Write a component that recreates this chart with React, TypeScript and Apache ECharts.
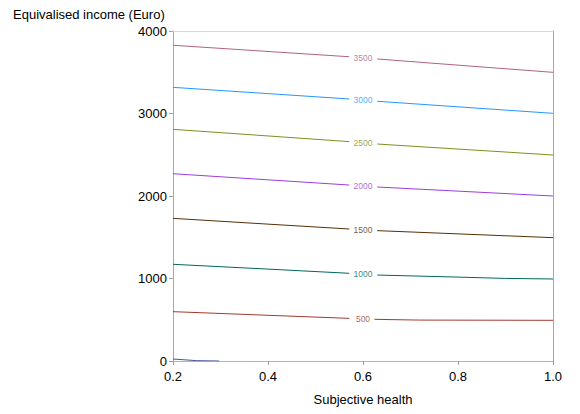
import React, { useEffect, useRef } from "react";
import * as echarts from "echarts";

// Contour levels and their colours
const levels = [0, 500, 1000, 1500, 2000, 2500, 3000, 3500];
const levelColors = ["#445694", "#A23A2E", "#01665E", "#543005", "#9D3CDB", "#7F8E1F", "#2597FA", "#B26084"];

// Contour lines: [subjective health, income]; "-" marks the gap left for the label
const contour0 = [[0.2, 24], [0.25, 4], [0.297, 0]];
const contour500 = [[0.2, 598], [0.4, 554], [0.571, 517], [0.6, "-"], [0.624, 505], [0.719, 496], [1.0, 493]];
const contour1000 = [[0.2, 1172], [0.4, 1114], [0.571, 1063], [0.6, "-"], [0.63, 1042], [0.8, 1017], [0.9, 1001], [1.0, 994]];
const contour1500 = [[0.2, 1729], [0.4, 1659], [0.571, 1600], [0.6, "-"], [0.63, 1580], [0.8, 1541], [1.0, 1495]];
const contour2000 = [[0.2, 2270], [0.4, 2196], [0.571, 2133], [0.6, "-"], [0.63, 2109], [0.8, 2059], [1.0, 2000]];
const contour2500 = [[0.2, 2808], [0.4, 2728], [0.571, 2659], [0.6, "-"], [0.63, 2630], [0.8, 2569], [1.0, 2497]];
const contour3000 = [[0.2, 3317], [0.4, 3241], [0.571, 3176], [0.6, "-"], [0.63, 3148], [0.8, 3081], [1.0, 3002]];
const contour3500 = [[0.2, 3827], [0.4, 3752], [0.571, 3688], [0.6, "-"], [0.63, 3661], [0.8, 3586], [1.0, 3499]];
const contours = [contour0, contour500, contour1000, contour1500, contour2000, contour2500, contour3000, contour3500];

// Label positions (x, income) for levels 500..3500
const labelX = 0.6;
const labelLevels = [500, 1000, 1500, 2000, 2500, 3000, 3500];
const labelY = [513, 1052, 1590, 2121, 2644, 3162, 3675];

// Axes
const xMin = 0.2, xMax = 1.0, xStep = 0.2;
const yMin = 0, yMax = 4000, yStep = 1000;
const xTitle = "Subjective health";
const yTitle = "Equivalised income (Euro)";

const FONT = "Liberation Sans, Arial, Helvetica, sans-serif";

export default function App() {
  const ref = useRef<HTMLDivElement>(null);
  useEffect(() => {
    if (!ref.current) return;
    const chart = echarts.init(ref.current, undefined, { renderer: "svg" });
    const lineSeries = contours.map((d, i) => ({
      type: "line",
      name: String(levels[i]),
      data: d,
      showSymbol: false,
      symbol: "none",
      connectNulls: false,
      lineStyle: { width: 1, color: levelColors[i] },
      itemStyle: { color: levelColors[i] },
      xAxisIndex: 0,
      yAxisIndex: 0,
      silent: true,
      z: 3,
    }));
    const labelSeries = {
      type: "scatter",
      symbolSize: 0,
      silent: true,
      z: 4,
      data: labelLevels.map((lv, i) => ({
        value: [labelX, labelY[i]],
        name: String(lv),
        label: { color: levelColors[levels.indexOf(lv)] },
      })),
      label: {
        show: true,
        position: "inside",
        formatter: (p: any) => p.name,
        fontSize: 8.5,
        fontFamily: FONT,
      },
    };
    chart.setOption({
      animation: false,
      grid: { left: 173, top: 31, right: 27, bottom: 53, containLabel: false },
      title: {
        text: yTitle,
        left: 13,
        top: 8,
        padding: 0,
        textStyle: { fontSize: 13, fontWeight: "normal", color: "#000", fontFamily: FONT },
      },
      xAxis: [
        {
          type: "value",
          min: xMin,
          max: xMax,
          interval: xStep,
          name: xTitle,
          nameLocation: "middle",
          nameGap: 32,
          nameTextStyle: { fontSize: 13, color: "#000", fontFamily: FONT },
          axisLine: { show: true, lineStyle: { color: "#b4b4b4", width: 1 } },
          axisTick: { show: true, length: 4, lineStyle: { color: "#a0a0a0" } },
          axisLabel: { fontSize: 13, color: "#000", fontFamily: FONT, margin: 9, formatter: (v: number) => v.toFixed(1) },
          splitLine: { show: false },
        },
        {
          type: "value",
          position: "top",
          min: xMin,
          max: xMax,
          axisLine: { show: true, onZero: false, lineStyle: { color: "#d8d8d8", width: 1 } },
          axisTick: { show: false },
          axisLabel: { show: false },
          splitLine: { show: false },
        },
      ],
      yAxis: [
        {
          type: "value",
          min: yMin,
          max: yMax,
          interval: yStep,
          axisLine: { show: true, lineStyle: { color: "#a8a8a8", width: 1 } },
          axisTick: { show: true, length: 4, lineStyle: { color: "#a0a0a0" } },
          axisLabel: { fontSize: 13, color: "#000", fontFamily: FONT, margin: 6, formatter: (v: number) => String(v) },
          splitLine: { show: false },
        },
        {
          type: "value",
          position: "right",
          min: yMin,
          max: yMax,
          axisLine: { show: true, onZero: false, lineStyle: { color: "#a8a8a8", width: 1 } },
          axisTick: { show: false },
          axisLabel: { show: false },
          splitLine: { show: false },
        },
      ],
      series: [...lineSeries, labelSeries],
    });
    return () => chart.dispose();
  }, []);
  return (
    <div
      ref={ref}
      style={{ position: "absolute", left: 0, top: 0, width: 580, height: 414, background: "#fff" }}
    />
  );
}
